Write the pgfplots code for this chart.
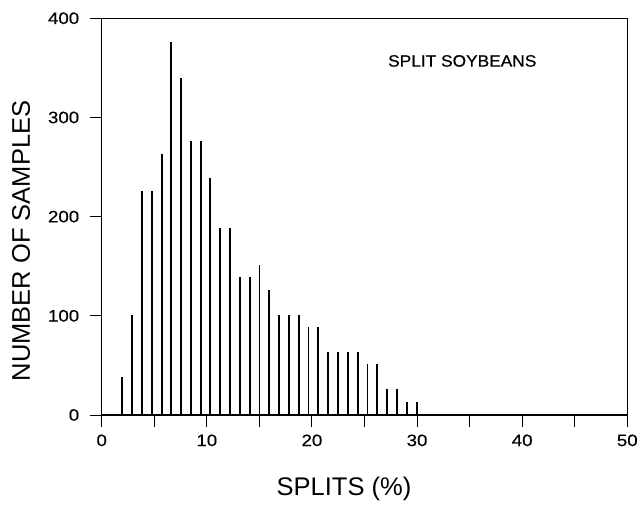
\documentclass[border=0pt]{standalone}
\usepackage{fontspec}
\setmainfont{Liberation Sans}
\newfontfamily\widefont[FakeStretch=1.13,FakeBold=0.4]{Liberation Sans}
\newfontfamily\notefont[FakeStretch=1.05,FakeBold=0.4]{Liberation Sans}
\usepackage{pgfplots}
\pgfplotsset{compat=1.18}
\begin{document}
\begin{tikzpicture}
\begin{axis}[
  scale only axis,
  width=525.6pt, height=396.7pt,
  xmin=0, xmax=50, ymin=0, ymax=400,
  axis line style={line width=1.3pt},
  xtick={0,10,20,30,40,50},
  minor xtick={5,15,25,35,45},
  ytick={0,100,200,300,400},
  tick align=outside,
  xtick pos=bottom, ytick pos=left,
  major tick length=12pt, minor tick length=12pt,
  every tick/.style={black, line width=0.9pt},
  /pgf/number format/assume math mode=true,
  ticklabel style={font=\widefont\fontsize{16.5}{18}\selectfont},
  xticklabel style={yshift=-4pt},
  yticklabel style={xshift=-7pt},
  xlabel={SPLITS (\%)},
  ylabel={NUMBER OF SAMPLES},
  label style={font=\fontsize{25.5}{28}\selectfont},
  xlabel style={at={(axis description cs:0.461,-0.187)}, anchor=center},
  ylabel style={at={(axis description cs:-0.1535,0.439)}, anchor=center},
  clip=false,
]
\addplot[ycomb, black, line width=1.8pt, mark=none] coordinates {
(1.94,38) (2.87,101) (3.84,226) (4.77,226) (5.70,263) (6.63,376)
(7.56,340) (8.50,276) (9.43,276) (10.32,239) (11.29,189) (12.22,189)
(13.15,139) (14.08,139) (15.01,151) (15.94,126) (16.87,101) (17.80,101)
(18.74,101) (19.67,89) (20.60,89) (21.53,64) (22.46,64) (23.40,64)
(24.36,64) (25.29,51) (26.22,51) (27.15,26) (28.08,26) (29.05,13.5)
(29.98,13.5)
};
\node[font=\notefont\fontsize{16.5}{18}\selectfont, anchor=center] at (axis cs:34.3,357) {SPLIT SOYBEANS};
\end{axis}
\pgfresetboundingbox
\useasboundingbox (-101.7pt,-91pt) rectangle (538.3pt,415pt);
\end{tikzpicture}
\end{document}
